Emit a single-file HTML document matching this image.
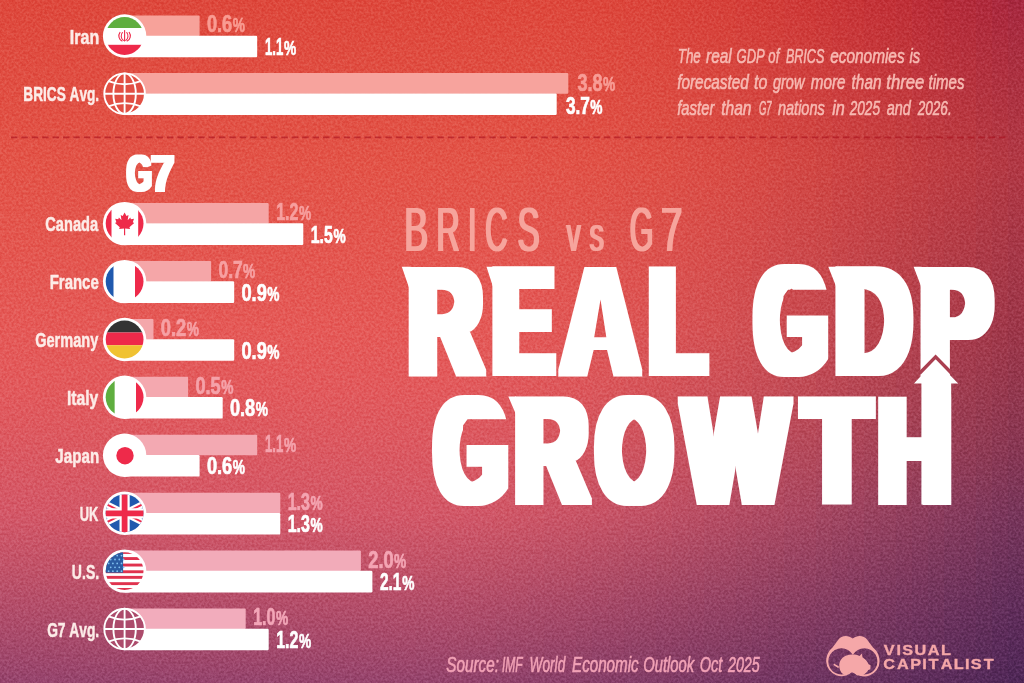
<!DOCTYPE html>
<html lang="en"><head><meta charset="utf-8"><title>BRICS vs G7 Real GDP Growth</title>
<style>
html,body{margin:0;padding:0;background:#d84a44;}
body{width:1024px;height:683px;overflow:hidden;font-family:"Liberation Sans",sans-serif;}
svg{display:block}
text{font-family:"Liberation Sans",sans-serif;font-kerning:none;}
</style></head><body>
<svg width="1024" height="683" viewBox="0 0 1024 683">
<defs>
<linearGradient id="b0" x1="0" y1="0" x2="0" y2="1"><stop offset="0.0000" stop-color="#de483c"/><stop offset="0.0878" stop-color="#e04d41"/><stop offset="0.2387" stop-color="#e35448"/><stop offset="0.3660" stop-color="#e45750"/><stop offset="0.4876" stop-color="#e55a58"/><stop offset="0.5754" stop-color="#e25a5d"/><stop offset="0.6633" stop-color="#db5962"/><stop offset="0.7511" stop-color="#d45868"/><stop offset="0.8389" stop-color="#c05269"/><stop offset="0.8829" stop-color="#b54e6a"/><stop offset="0.9370" stop-color="#a84a6b"/><stop offset="1.0000" stop-color="#96446d"/></linearGradient>
<linearGradient id="b1" x1="0" y1="0" x2="0" y2="1"><stop offset="0.0000" stop-color="#de483c"/><stop offset="0.0878" stop-color="#e04d41"/><stop offset="0.2387" stop-color="#e35448"/><stop offset="0.3660" stop-color="#e45750"/><stop offset="0.4876" stop-color="#e55a58"/><stop offset="0.5754" stop-color="#e25a5d"/><stop offset="0.6633" stop-color="#db5962"/><stop offset="0.7511" stop-color="#d45868"/><stop offset="0.8389" stop-color="#c05269"/><stop offset="0.8829" stop-color="#b54e6a"/><stop offset="0.9370" stop-color="#a84a6b"/><stop offset="1.0000" stop-color="#96446d"/></linearGradient>
<linearGradient id="b2" x1="0" y1="0" x2="0" y2="1"><stop offset="0.0000" stop-color="#de483c"/><stop offset="0.0878" stop-color="#e04d41"/><stop offset="0.2387" stop-color="#e35448"/><stop offset="0.3660" stop-color="#e45750"/><stop offset="0.4876" stop-color="#e55a58"/><stop offset="0.5754" stop-color="#e25a5d"/><stop offset="0.6633" stop-color="#db5962"/><stop offset="0.7511" stop-color="#d45868"/><stop offset="0.8389" stop-color="#c05269"/><stop offset="0.8829" stop-color="#b54e6a"/><stop offset="0.9370" stop-color="#a84a6b"/><stop offset="1.0000" stop-color="#96446d"/></linearGradient>
<linearGradient id="b3" x1="0" y1="0" x2="0" y2="1"><stop offset="0.0000" stop-color="#de483c"/><stop offset="0.0878" stop-color="#e04d41"/><stop offset="0.2387" stop-color="#e35448"/><stop offset="0.3660" stop-color="#e45750"/><stop offset="0.4876" stop-color="#e55a58"/><stop offset="0.5754" stop-color="#e25a5d"/><stop offset="0.6633" stop-color="#db5962"/><stop offset="0.7511" stop-color="#d45868"/><stop offset="0.8389" stop-color="#c05269"/><stop offset="0.8829" stop-color="#b54e6a"/><stop offset="0.9370" stop-color="#a84a6b"/><stop offset="1.0000" stop-color="#96446d"/></linearGradient>
<linearGradient id="b4" x1="0" y1="0" x2="0" y2="1"><stop offset="0.0000" stop-color="#de483c"/><stop offset="0.0878" stop-color="#e04d41"/><stop offset="0.2387" stop-color="#e35448"/><stop offset="0.3660" stop-color="#e45750"/><stop offset="0.4876" stop-color="#e55a58"/><stop offset="0.5754" stop-color="#e25a5d"/><stop offset="0.6633" stop-color="#db5962"/><stop offset="0.7511" stop-color="#d45868"/><stop offset="0.8389" stop-color="#c05269"/><stop offset="0.8829" stop-color="#b54e6a"/><stop offset="0.9370" stop-color="#a84a6b"/><stop offset="1.0000" stop-color="#96446d"/></linearGradient>
<linearGradient id="b5" x1="0" y1="0" x2="0" y2="1"><stop offset="0.0000" stop-color="#de483c"/><stop offset="0.0878" stop-color="#e04d41"/><stop offset="0.2387" stop-color="#e35448"/><stop offset="0.3660" stop-color="#e45750"/><stop offset="0.4876" stop-color="#e55a58"/><stop offset="0.5754" stop-color="#e25a5d"/><stop offset="0.6633" stop-color="#db5962"/><stop offset="0.7511" stop-color="#d45868"/><stop offset="0.8389" stop-color="#c05269"/><stop offset="0.8829" stop-color="#b54e6a"/><stop offset="0.9370" stop-color="#a84a6b"/><stop offset="1.0000" stop-color="#96446d"/></linearGradient>
<linearGradient id="b6" x1="0" y1="0" x2="0" y2="1"><stop offset="0.0000" stop-color="#de483c"/><stop offset="0.0878" stop-color="#e04d41"/><stop offset="0.2387" stop-color="#e35448"/><stop offset="0.3660" stop-color="#e45750"/><stop offset="0.4876" stop-color="#e55a58"/><stop offset="0.5754" stop-color="#e25a5d"/><stop offset="0.6633" stop-color="#db5962"/><stop offset="0.7511" stop-color="#d45868"/><stop offset="0.8389" stop-color="#c05269"/><stop offset="0.8829" stop-color="#b54e6a"/><stop offset="0.9370" stop-color="#a84a6b"/><stop offset="1.0000" stop-color="#96446d"/></linearGradient>
<linearGradient id="b7" x1="0" y1="0" x2="0" y2="1"><stop offset="0.0000" stop-color="#de483c"/><stop offset="0.0878" stop-color="#e04d41"/><stop offset="0.2387" stop-color="#e35448"/><stop offset="0.3660" stop-color="#e45750"/><stop offset="0.4876" stop-color="#e55a58"/><stop offset="0.5754" stop-color="#e25a5d"/><stop offset="0.6633" stop-color="#db5962"/><stop offset="0.7511" stop-color="#d45868"/><stop offset="0.8389" stop-color="#c05269"/><stop offset="0.8829" stop-color="#b54e6a"/><stop offset="0.9370" stop-color="#a84a6b"/><stop offset="1.0000" stop-color="#96446d"/></linearGradient>
<linearGradient id="b8" x1="0" y1="0" x2="0" y2="1"><stop offset="0.0000" stop-color="#de483c"/><stop offset="0.0878" stop-color="#e04d41"/><stop offset="0.2387" stop-color="#e35448"/><stop offset="0.3660" stop-color="#e45750"/><stop offset="0.4876" stop-color="#e55a58"/><stop offset="0.5754" stop-color="#e25a5d"/><stop offset="0.6633" stop-color="#db5962"/><stop offset="0.7511" stop-color="#d45868"/><stop offset="0.8389" stop-color="#c05269"/><stop offset="0.8829" stop-color="#b54e6a"/><stop offset="0.9370" stop-color="#a84a6b"/><stop offset="1.0000" stop-color="#96446d"/></linearGradient>
<linearGradient id="b9" x1="0" y1="0" x2="0" y2="1"><stop offset="0.0000" stop-color="#de483c"/><stop offset="0.0878" stop-color="#e04d41"/><stop offset="0.2387" stop-color="#e35448"/><stop offset="0.3660" stop-color="#e45750"/><stop offset="0.4876" stop-color="#e55a58"/><stop offset="0.5754" stop-color="#e25a5d"/><stop offset="0.6633" stop-color="#db5962"/><stop offset="0.7511" stop-color="#d45868"/><stop offset="0.8389" stop-color="#c05269"/><stop offset="0.8829" stop-color="#b54e6a"/><stop offset="0.9370" stop-color="#a84a6b"/><stop offset="1.0000" stop-color="#96446d"/></linearGradient>
<linearGradient id="b10" x1="0" y1="0" x2="0" y2="1"><stop offset="0.0000" stop-color="#de483c"/><stop offset="0.0878" stop-color="#e04d41"/><stop offset="0.2387" stop-color="#e35448"/><stop offset="0.3660" stop-color="#e45750"/><stop offset="0.4876" stop-color="#e55a58"/><stop offset="0.5754" stop-color="#e25a5d"/><stop offset="0.6633" stop-color="#db5962"/><stop offset="0.7511" stop-color="#d45868"/><stop offset="0.8389" stop-color="#c05269"/><stop offset="0.8829" stop-color="#b54e6a"/><stop offset="0.9370" stop-color="#a84a6b"/><stop offset="1.0000" stop-color="#96446d"/></linearGradient>
<linearGradient id="b11" x1="0" y1="0" x2="0" y2="1"><stop offset="0.0000" stop-color="#de483c"/><stop offset="0.0878" stop-color="#e04d41"/><stop offset="0.2387" stop-color="#e35448"/><stop offset="0.3660" stop-color="#e45750"/><stop offset="0.4876" stop-color="#e55a58"/><stop offset="0.5754" stop-color="#e25a5d"/><stop offset="0.6633" stop-color="#db5962"/><stop offset="0.7511" stop-color="#d45868"/><stop offset="0.8389" stop-color="#c05269"/><stop offset="0.8829" stop-color="#b54e6a"/><stop offset="0.9370" stop-color="#a84a6b"/><stop offset="1.0000" stop-color="#96446d"/></linearGradient>
<linearGradient id="b12" x1="0" y1="0" x2="0" y2="1"><stop offset="0.0000" stop-color="#de483c"/><stop offset="0.0878" stop-color="#e04d41"/><stop offset="0.2387" stop-color="#e35448"/><stop offset="0.3660" stop-color="#e45750"/><stop offset="0.4876" stop-color="#e55a58"/><stop offset="0.5754" stop-color="#e25a5d"/><stop offset="0.6633" stop-color="#db5962"/><stop offset="0.7511" stop-color="#d45868"/><stop offset="0.8389" stop-color="#c05269"/><stop offset="0.8829" stop-color="#b54e6a"/><stop offset="0.9370" stop-color="#a84a6b"/><stop offset="1.0000" stop-color="#96446d"/></linearGradient>
<linearGradient id="b13" x1="0" y1="0" x2="0" y2="1"><stop offset="0.0000" stop-color="#de483c"/><stop offset="0.0878" stop-color="#e04d41"/><stop offset="0.2387" stop-color="#e35448"/><stop offset="0.3660" stop-color="#e45750"/><stop offset="0.4876" stop-color="#e55a58"/><stop offset="0.5754" stop-color="#e25a5d"/><stop offset="0.6633" stop-color="#db5962"/><stop offset="0.7511" stop-color="#d45868"/><stop offset="0.8389" stop-color="#c05269"/><stop offset="0.8829" stop-color="#b54e6a"/><stop offset="0.9370" stop-color="#a84a6b"/><stop offset="1.0000" stop-color="#96446d"/></linearGradient>
<linearGradient id="b14" x1="0" y1="0" x2="0" y2="1"><stop offset="0.0000" stop-color="#de483c"/><stop offset="0.0878" stop-color="#e04d41"/><stop offset="0.2387" stop-color="#e35448"/><stop offset="0.3660" stop-color="#e45750"/><stop offset="0.4876" stop-color="#e55a58"/><stop offset="0.5754" stop-color="#e25a5d"/><stop offset="0.6633" stop-color="#db5962"/><stop offset="0.7511" stop-color="#d45868"/><stop offset="0.8389" stop-color="#c05269"/><stop offset="0.8829" stop-color="#b54e6a"/><stop offset="0.9370" stop-color="#a84a6b"/><stop offset="1.0000" stop-color="#96446d"/></linearGradient>
<linearGradient id="b15" x1="0" y1="0" x2="0" y2="1"><stop offset="0.0000" stop-color="#de483c"/><stop offset="0.0878" stop-color="#e04d41"/><stop offset="0.2387" stop-color="#e35448"/><stop offset="0.3660" stop-color="#e45750"/><stop offset="0.4876" stop-color="#e55a58"/><stop offset="0.5754" stop-color="#e25a5d"/><stop offset="0.6633" stop-color="#db5962"/><stop offset="0.7511" stop-color="#d45868"/><stop offset="0.8389" stop-color="#c05269"/><stop offset="0.8829" stop-color="#b54e6a"/><stop offset="0.9370" stop-color="#a84a6b"/><stop offset="1.0000" stop-color="#96446d"/></linearGradient>
<linearGradient id="b16" x1="0" y1="0" x2="0" y2="1"><stop offset="0.0000" stop-color="#de483c"/><stop offset="0.0878" stop-color="#e04d41"/><stop offset="0.2387" stop-color="#e35448"/><stop offset="0.3660" stop-color="#e45750"/><stop offset="0.4876" stop-color="#e55a58"/><stop offset="0.5754" stop-color="#e25a5d"/><stop offset="0.6633" stop-color="#db5962"/><stop offset="0.7511" stop-color="#d45868"/><stop offset="0.8389" stop-color="#c05269"/><stop offset="0.8829" stop-color="#b54e6a"/><stop offset="0.9370" stop-color="#a84a6b"/><stop offset="1.0000" stop-color="#96446d"/></linearGradient>
<linearGradient id="b17" x1="0" y1="0" x2="0" y2="1"><stop offset="0.0000" stop-color="#de483c"/><stop offset="0.0878" stop-color="#e04d41"/><stop offset="0.2387" stop-color="#e35448"/><stop offset="0.3660" stop-color="#e45750"/><stop offset="0.4876" stop-color="#e55a58"/><stop offset="0.5754" stop-color="#e25a5d"/><stop offset="0.6633" stop-color="#db5962"/><stop offset="0.7511" stop-color="#d45868"/><stop offset="0.8389" stop-color="#c05269"/><stop offset="0.8829" stop-color="#b54e6a"/><stop offset="0.9370" stop-color="#a84a6b"/><stop offset="1.0000" stop-color="#96446d"/></linearGradient>
<linearGradient id="b18" x1="0" y1="0" x2="0" y2="1"><stop offset="0.0000" stop-color="#de483c"/><stop offset="0.0878" stop-color="#e04d41"/><stop offset="0.2387" stop-color="#e35448"/><stop offset="0.3660" stop-color="#e45750"/><stop offset="0.4876" stop-color="#e55a58"/><stop offset="0.5754" stop-color="#e25a5d"/><stop offset="0.6633" stop-color="#db5962"/><stop offset="0.7511" stop-color="#d45868"/><stop offset="0.8389" stop-color="#c05269"/><stop offset="0.8829" stop-color="#b54e6a"/><stop offset="0.9370" stop-color="#a84a6b"/><stop offset="1.0000" stop-color="#96446d"/></linearGradient>
<linearGradient id="b19" x1="0" y1="0" x2="0" y2="1"><stop offset="0.0000" stop-color="#de483c"/><stop offset="0.0878" stop-color="#e04d41"/><stop offset="0.2387" stop-color="#e35448"/><stop offset="0.3660" stop-color="#e45750"/><stop offset="0.4876" stop-color="#e55a58"/><stop offset="0.5754" stop-color="#e25a5d"/><stop offset="0.6633" stop-color="#db5962"/><stop offset="0.7511" stop-color="#d45868"/><stop offset="0.8389" stop-color="#c05269"/><stop offset="0.8829" stop-color="#b54e6a"/><stop offset="0.9370" stop-color="#a84a6b"/><stop offset="1.0000" stop-color="#96446d"/></linearGradient>
<linearGradient id="b20" x1="0" y1="0" x2="0" y2="1"><stop offset="0.0000" stop-color="#de483c"/><stop offset="0.0878" stop-color="#e04d41"/><stop offset="0.2387" stop-color="#e35448"/><stop offset="0.3660" stop-color="#e45750"/><stop offset="0.4876" stop-color="#e55a58"/><stop offset="0.5754" stop-color="#e25a5d"/><stop offset="0.6633" stop-color="#db5962"/><stop offset="0.7511" stop-color="#d45868"/><stop offset="0.8389" stop-color="#c05269"/><stop offset="0.8829" stop-color="#b54e6a"/><stop offset="0.9370" stop-color="#a84a6b"/><stop offset="1.0000" stop-color="#96446d"/></linearGradient>
<linearGradient id="b21" x1="0" y1="0" x2="0" y2="1"><stop offset="0.0000" stop-color="#de483c"/><stop offset="0.0878" stop-color="#e04d41"/><stop offset="0.2387" stop-color="#e35448"/><stop offset="0.3660" stop-color="#e45750"/><stop offset="0.4876" stop-color="#e55a58"/><stop offset="0.5754" stop-color="#e25a5d"/><stop offset="0.6633" stop-color="#db5962"/><stop offset="0.7511" stop-color="#d45868"/><stop offset="0.8389" stop-color="#c05269"/><stop offset="0.8829" stop-color="#b54e6a"/><stop offset="0.9370" stop-color="#a84a6b"/><stop offset="1.0000" stop-color="#96446d"/></linearGradient>
<linearGradient id="b22" x1="0" y1="0" x2="0" y2="1"><stop offset="0.0000" stop-color="#de483c"/><stop offset="0.0878" stop-color="#e04d41"/><stop offset="0.2387" stop-color="#e35448"/><stop offset="0.3660" stop-color="#e45750"/><stop offset="0.4876" stop-color="#e55a58"/><stop offset="0.5754" stop-color="#e25a5d"/><stop offset="0.6633" stop-color="#db5962"/><stop offset="0.7511" stop-color="#d45868"/><stop offset="0.8389" stop-color="#c05269"/><stop offset="0.8829" stop-color="#b54e6a"/><stop offset="0.9370" stop-color="#a84a6b"/><stop offset="1.0000" stop-color="#96446d"/></linearGradient>
<linearGradient id="b23" x1="0" y1="0" x2="0" y2="1"><stop offset="0.0000" stop-color="#de483c"/><stop offset="0.0878" stop-color="#e04d41"/><stop offset="0.2387" stop-color="#e35448"/><stop offset="0.3660" stop-color="#e45750"/><stop offset="0.4876" stop-color="#e55a58"/><stop offset="0.5754" stop-color="#e25a5d"/><stop offset="0.6633" stop-color="#db5962"/><stop offset="0.7511" stop-color="#d45868"/><stop offset="0.8389" stop-color="#c05269"/><stop offset="0.8829" stop-color="#b54e6a"/><stop offset="0.9370" stop-color="#a84a6b"/><stop offset="1.0000" stop-color="#96446d"/></linearGradient>
<linearGradient id="b24" x1="0" y1="0" x2="0" y2="1"><stop offset="0.0000" stop-color="#de483c"/><stop offset="0.0878" stop-color="#e04d41"/><stop offset="0.2387" stop-color="#e35448"/><stop offset="0.3660" stop-color="#e45750"/><stop offset="0.4876" stop-color="#e55a58"/><stop offset="0.5754" stop-color="#e25a5d"/><stop offset="0.6633" stop-color="#db5962"/><stop offset="0.7511" stop-color="#d45868"/><stop offset="0.8389" stop-color="#c05269"/><stop offset="0.8829" stop-color="#b54e6a"/><stop offset="0.9370" stop-color="#a84a6b"/><stop offset="1.0000" stop-color="#96446d"/></linearGradient>
<linearGradient id="b25" x1="0" y1="0" x2="0" y2="1"><stop offset="0.0000" stop-color="#de483c"/><stop offset="0.0878" stop-color="#e04d41"/><stop offset="0.2387" stop-color="#e35448"/><stop offset="0.3660" stop-color="#e45750"/><stop offset="0.4876" stop-color="#e55a58"/><stop offset="0.5754" stop-color="#e25a5d"/><stop offset="0.6633" stop-color="#db5962"/><stop offset="0.7511" stop-color="#d45868"/><stop offset="0.8389" stop-color="#c05269"/><stop offset="0.8829" stop-color="#b54e6a"/><stop offset="0.9370" stop-color="#a84a6b"/><stop offset="1.0000" stop-color="#96446d"/></linearGradient>
<linearGradient id="b26" x1="0" y1="0" x2="0" y2="1"><stop offset="0.0000" stop-color="#de483c"/><stop offset="0.0878" stop-color="#e04d41"/><stop offset="0.2387" stop-color="#e35448"/><stop offset="0.3660" stop-color="#e45750"/><stop offset="0.4876" stop-color="#e55a58"/><stop offset="0.5754" stop-color="#e25a5d"/><stop offset="0.6633" stop-color="#db5962"/><stop offset="0.7511" stop-color="#d45868"/><stop offset="0.8389" stop-color="#c05269"/><stop offset="0.8829" stop-color="#b44e6a"/><stop offset="0.9370" stop-color="#a74a6b"/><stop offset="1.0000" stop-color="#95446d"/></linearGradient>
<linearGradient id="b27" x1="0" y1="0" x2="0" y2="1"><stop offset="0.0000" stop-color="#de483c"/><stop offset="0.0878" stop-color="#e04d41"/><stop offset="0.2387" stop-color="#e35448"/><stop offset="0.3660" stop-color="#e45750"/><stop offset="0.4876" stop-color="#e55a58"/><stop offset="0.5754" stop-color="#e25a5d"/><stop offset="0.6633" stop-color="#db5962"/><stop offset="0.7511" stop-color="#d35868"/><stop offset="0.8389" stop-color="#bf5269"/><stop offset="0.8829" stop-color="#b44e6a"/><stop offset="0.9370" stop-color="#a7496b"/><stop offset="1.0000" stop-color="#94436c"/></linearGradient>
<linearGradient id="b28" x1="0" y1="0" x2="0" y2="1"><stop offset="0.0000" stop-color="#de483c"/><stop offset="0.0878" stop-color="#e04d41"/><stop offset="0.2387" stop-color="#e35448"/><stop offset="0.3660" stop-color="#e45750"/><stop offset="0.4876" stop-color="#e55a58"/><stop offset="0.5754" stop-color="#e25a5d"/><stop offset="0.6633" stop-color="#da5962"/><stop offset="0.7511" stop-color="#d35868"/><stop offset="0.8389" stop-color="#be5169"/><stop offset="0.8829" stop-color="#b34d6a"/><stop offset="0.9370" stop-color="#a6496a"/><stop offset="1.0000" stop-color="#93436c"/></linearGradient>
<linearGradient id="b29" x1="0" y1="0" x2="0" y2="1"><stop offset="0.0000" stop-color="#de483c"/><stop offset="0.0878" stop-color="#e04d41"/><stop offset="0.2387" stop-color="#e35448"/><stop offset="0.3660" stop-color="#e45750"/><stop offset="0.4876" stop-color="#e55a58"/><stop offset="0.5754" stop-color="#e15a5d"/><stop offset="0.6633" stop-color="#da5962"/><stop offset="0.7511" stop-color="#d25768"/><stop offset="0.8389" stop-color="#be5169"/><stop offset="0.8829" stop-color="#b24d69"/><stop offset="0.9370" stop-color="#a5496a"/><stop offset="1.0000" stop-color="#92426c"/></linearGradient>
<linearGradient id="b30" x1="0" y1="0" x2="0" y2="1"><stop offset="0.0000" stop-color="#de483c"/><stop offset="0.0878" stop-color="#e04d41"/><stop offset="0.2387" stop-color="#e35448"/><stop offset="0.3660" stop-color="#e45750"/><stop offset="0.4876" stop-color="#e45a58"/><stop offset="0.5754" stop-color="#e15a5d"/><stop offset="0.6633" stop-color="#d95862"/><stop offset="0.7511" stop-color="#d15768"/><stop offset="0.8389" stop-color="#bc5168"/><stop offset="0.8829" stop-color="#b14c69"/><stop offset="0.9370" stop-color="#a4486a"/><stop offset="1.0000" stop-color="#91426c"/></linearGradient>
<linearGradient id="b31" x1="0" y1="0" x2="0" y2="1"><stop offset="0.0000" stop-color="#de483c"/><stop offset="0.0878" stop-color="#e04d41"/><stop offset="0.2387" stop-color="#e35448"/><stop offset="0.3660" stop-color="#e35750"/><stop offset="0.4876" stop-color="#e45958"/><stop offset="0.5754" stop-color="#e0595d"/><stop offset="0.6633" stop-color="#d95862"/><stop offset="0.7511" stop-color="#d05767"/><stop offset="0.8389" stop-color="#bb5068"/><stop offset="0.8829" stop-color="#b04c69"/><stop offset="0.9370" stop-color="#a2486a"/><stop offset="1.0000" stop-color="#90426b"/></linearGradient>
<linearGradient id="b32" x1="0" y1="0" x2="0" y2="1"><stop offset="0.0000" stop-color="#de483c"/><stop offset="0.0878" stop-color="#e04d41"/><stop offset="0.2387" stop-color="#e35448"/><stop offset="0.3660" stop-color="#e35750"/><stop offset="0.4876" stop-color="#e35958"/><stop offset="0.5754" stop-color="#e0595d"/><stop offset="0.6633" stop-color="#d85862"/><stop offset="0.7511" stop-color="#cf5667"/><stop offset="0.8389" stop-color="#ba5068"/><stop offset="0.8829" stop-color="#af4c69"/><stop offset="0.9370" stop-color="#a14769"/><stop offset="1.0000" stop-color="#8f416b"/></linearGradient>
<linearGradient id="b33" x1="0" y1="0" x2="0" y2="1"><stop offset="0.0000" stop-color="#de483c"/><stop offset="0.0878" stop-color="#e04d41"/><stop offset="0.2387" stop-color="#e25348"/><stop offset="0.3660" stop-color="#e35650"/><stop offset="0.4876" stop-color="#e35958"/><stop offset="0.5754" stop-color="#df595c"/><stop offset="0.6633" stop-color="#d75762"/><stop offset="0.7511" stop-color="#ce5667"/><stop offset="0.8389" stop-color="#b94f68"/><stop offset="0.8829" stop-color="#ad4b69"/><stop offset="0.9370" stop-color="#a04769"/><stop offset="1.0000" stop-color="#8d406a"/></linearGradient>
<linearGradient id="b34" x1="0" y1="0" x2="0" y2="1"><stop offset="0.0000" stop-color="#de483c"/><stop offset="0.0878" stop-color="#e04d41"/><stop offset="0.2387" stop-color="#e25348"/><stop offset="0.3660" stop-color="#e25650"/><stop offset="0.4876" stop-color="#e25857"/><stop offset="0.5754" stop-color="#de585c"/><stop offset="0.6633" stop-color="#d55761"/><stop offset="0.7511" stop-color="#cc5567"/><stop offset="0.8389" stop-color="#b74f68"/><stop offset="0.8829" stop-color="#ac4a68"/><stop offset="0.9370" stop-color="#9e4669"/><stop offset="1.0000" stop-color="#8c406a"/></linearGradient>
<linearGradient id="b35" x1="0" y1="0" x2="0" y2="1"><stop offset="0.0000" stop-color="#dd473c"/><stop offset="0.0878" stop-color="#df4c41"/><stop offset="0.2387" stop-color="#e25348"/><stop offset="0.3660" stop-color="#e25650"/><stop offset="0.4876" stop-color="#e15857"/><stop offset="0.5754" stop-color="#dd585c"/><stop offset="0.6633" stop-color="#d45661"/><stop offset="0.7511" stop-color="#cb5567"/><stop offset="0.8389" stop-color="#b64e67"/><stop offset="0.8829" stop-color="#aa4a68"/><stop offset="0.9370" stop-color="#9d4568"/><stop offset="1.0000" stop-color="#8b3f6a"/></linearGradient>
<linearGradient id="b36" x1="0" y1="0" x2="0" y2="1"><stop offset="0.0000" stop-color="#dd473c"/><stop offset="0.0878" stop-color="#df4c41"/><stop offset="0.2387" stop-color="#e15247"/><stop offset="0.3660" stop-color="#e1554f"/><stop offset="0.4876" stop-color="#e05857"/><stop offset="0.5754" stop-color="#dc575c"/><stop offset="0.6633" stop-color="#d35661"/><stop offset="0.7511" stop-color="#c95466"/><stop offset="0.8389" stop-color="#b44d67"/><stop offset="0.8829" stop-color="#a94968"/><stop offset="0.9370" stop-color="#9b4568"/><stop offset="1.0000" stop-color="#893f69"/></linearGradient>
<linearGradient id="b37" x1="0" y1="0" x2="0" y2="1"><stop offset="0.0000" stop-color="#dd463b"/><stop offset="0.0878" stop-color="#df4b40"/><stop offset="0.2387" stop-color="#e15247"/><stop offset="0.3660" stop-color="#e0554f"/><stop offset="0.4876" stop-color="#df5757"/><stop offset="0.5754" stop-color="#da575c"/><stop offset="0.6633" stop-color="#d15561"/><stop offset="0.7511" stop-color="#c85366"/><stop offset="0.8389" stop-color="#b24d67"/><stop offset="0.8829" stop-color="#a74867"/><stop offset="0.9370" stop-color="#994468"/><stop offset="1.0000" stop-color="#873e69"/></linearGradient>
<linearGradient id="b38" x1="0" y1="0" x2="0" y2="1"><stop offset="0.0000" stop-color="#dc463b"/><stop offset="0.0878" stop-color="#de4b40"/><stop offset="0.2387" stop-color="#e05147"/><stop offset="0.3660" stop-color="#df544f"/><stop offset="0.4876" stop-color="#de5656"/><stop offset="0.5754" stop-color="#d9565b"/><stop offset="0.6633" stop-color="#d05460"/><stop offset="0.7511" stop-color="#c65366"/><stop offset="0.8389" stop-color="#b04c66"/><stop offset="0.8829" stop-color="#a54867"/><stop offset="0.9370" stop-color="#984367"/><stop offset="1.0000" stop-color="#863d68"/></linearGradient>
<linearGradient id="b39" x1="0" y1="0" x2="0" y2="1"><stop offset="0.0000" stop-color="#dc453b"/><stop offset="0.0878" stop-color="#dd4a40"/><stop offset="0.2387" stop-color="#df5147"/><stop offset="0.3660" stop-color="#de534f"/><stop offset="0.4876" stop-color="#dd5656"/><stop offset="0.5754" stop-color="#d7555b"/><stop offset="0.6633" stop-color="#ce5460"/><stop offset="0.7511" stop-color="#c45266"/><stop offset="0.8389" stop-color="#ae4b66"/><stop offset="0.8829" stop-color="#a34767"/><stop offset="0.9370" stop-color="#964367"/><stop offset="1.0000" stop-color="#843d68"/></linearGradient>
<linearGradient id="b40" x1="0" y1="0" x2="0" y2="1"><stop offset="0.0000" stop-color="#db453b"/><stop offset="0.0878" stop-color="#dd4a40"/><stop offset="0.2387" stop-color="#df5046"/><stop offset="0.3660" stop-color="#dd534e"/><stop offset="0.4876" stop-color="#db5556"/><stop offset="0.5754" stop-color="#d6555b"/><stop offset="0.6633" stop-color="#cc5360"/><stop offset="0.7511" stop-color="#c25165"/><stop offset="0.8389" stop-color="#ac4a66"/><stop offset="0.8829" stop-color="#a14666"/><stop offset="0.9370" stop-color="#944266"/><stop offset="1.0000" stop-color="#823c67"/></linearGradient>
<linearGradient id="b41" x1="0" y1="0" x2="0" y2="1"><stop offset="0.0000" stop-color="#da443a"/><stop offset="0.0878" stop-color="#dc493f"/><stop offset="0.2387" stop-color="#de5046"/><stop offset="0.3660" stop-color="#dc524e"/><stop offset="0.4876" stop-color="#da5456"/><stop offset="0.5754" stop-color="#d4545a"/><stop offset="0.6633" stop-color="#ca525f"/><stop offset="0.7511" stop-color="#c05065"/><stop offset="0.8389" stop-color="#aa4a65"/><stop offset="0.8829" stop-color="#9f4566"/><stop offset="0.9370" stop-color="#924166"/><stop offset="1.0000" stop-color="#813b66"/></linearGradient>
<linearGradient id="b42" x1="0" y1="0" x2="0" y2="1"><stop offset="0.0000" stop-color="#d9433a"/><stop offset="0.0878" stop-color="#db483f"/><stop offset="0.2387" stop-color="#dd4f46"/><stop offset="0.3660" stop-color="#db514e"/><stop offset="0.4876" stop-color="#d85355"/><stop offset="0.5754" stop-color="#d2535a"/><stop offset="0.6633" stop-color="#c8515f"/><stop offset="0.7511" stop-color="#bd4f65"/><stop offset="0.8389" stop-color="#a84965"/><stop offset="0.8829" stop-color="#9d4565"/><stop offset="0.9370" stop-color="#904065"/><stop offset="1.0000" stop-color="#7f3a66"/></linearGradient>
<linearGradient id="b43" x1="0" y1="0" x2="0" y2="1"><stop offset="0.0000" stop-color="#d8423a"/><stop offset="0.0878" stop-color="#da473f"/><stop offset="0.2387" stop-color="#dc4e46"/><stop offset="0.3660" stop-color="#d9504d"/><stop offset="0.4876" stop-color="#d65255"/><stop offset="0.5754" stop-color="#d0525a"/><stop offset="0.6633" stop-color="#c6505f"/><stop offset="0.7511" stop-color="#bb4e64"/><stop offset="0.8389" stop-color="#a64865"/><stop offset="0.8829" stop-color="#9b4465"/><stop offset="0.9370" stop-color="#8e3f65"/><stop offset="1.0000" stop-color="#7d3a65"/></linearGradient>
<linearGradient id="b44" x1="0" y1="0" x2="0" y2="1"><stop offset="0.0000" stop-color="#d7413a"/><stop offset="0.0878" stop-color="#d9463e"/><stop offset="0.2387" stop-color="#db4d45"/><stop offset="0.3660" stop-color="#d84f4d"/><stop offset="0.4876" stop-color="#d55254"/><stop offset="0.5754" stop-color="#ce5159"/><stop offset="0.6633" stop-color="#c44f5e"/><stop offset="0.7511" stop-color="#b84d64"/><stop offset="0.8389" stop-color="#a34764"/><stop offset="0.8829" stop-color="#984365"/><stop offset="0.9370" stop-color="#8c3f64"/><stop offset="1.0000" stop-color="#7b3965"/></linearGradient>
<linearGradient id="b45" x1="0" y1="0" x2="0" y2="1"><stop offset="0.0000" stop-color="#d64039"/><stop offset="0.0878" stop-color="#d8453e"/><stop offset="0.2387" stop-color="#d94c45"/><stop offset="0.3660" stop-color="#d64e4d"/><stop offset="0.4876" stop-color="#d35154"/><stop offset="0.5754" stop-color="#cc5059"/><stop offset="0.6633" stop-color="#c24f5e"/><stop offset="0.7511" stop-color="#b64c64"/><stop offset="0.8389" stop-color="#a14664"/><stop offset="0.8829" stop-color="#964264"/><stop offset="0.9370" stop-color="#893e64"/><stop offset="1.0000" stop-color="#793864"/></linearGradient>
<linearGradient id="b46" x1="0" y1="0" x2="0" y2="1"><stop offset="0.0000" stop-color="#d53e39"/><stop offset="0.0878" stop-color="#d6443e"/><stop offset="0.2387" stop-color="#d84b45"/><stop offset="0.3660" stop-color="#d54d4c"/><stop offset="0.4876" stop-color="#d15054"/><stop offset="0.5754" stop-color="#ca4f58"/><stop offset="0.6633" stop-color="#bf4e5d"/><stop offset="0.7511" stop-color="#b34b63"/><stop offset="0.8389" stop-color="#9e4563"/><stop offset="0.8829" stop-color="#944164"/><stop offset="0.9370" stop-color="#873d63"/><stop offset="1.0000" stop-color="#773764"/></linearGradient>
<linearGradient id="b47" x1="0" y1="0" x2="0" y2="1"><stop offset="0.0000" stop-color="#d33d38"/><stop offset="0.0878" stop-color="#d5423d"/><stop offset="0.2387" stop-color="#d74a44"/><stop offset="0.3660" stop-color="#d34c4c"/><stop offset="0.4876" stop-color="#ce4e53"/><stop offset="0.5754" stop-color="#c74e58"/><stop offset="0.6633" stop-color="#bd4c5d"/><stop offset="0.7511" stop-color="#b04a63"/><stop offset="0.8389" stop-color="#9c4463"/><stop offset="0.8829" stop-color="#914063"/><stop offset="0.9370" stop-color="#853c63"/><stop offset="1.0000" stop-color="#753663"/></linearGradient>
<linearGradient id="b48" x1="0" y1="0" x2="0" y2="1"><stop offset="0.0000" stop-color="#d23c38"/><stop offset="0.0878" stop-color="#d3413d"/><stop offset="0.2387" stop-color="#d54944"/><stop offset="0.3660" stop-color="#d14b4c"/><stop offset="0.4876" stop-color="#cc4d53"/><stop offset="0.5754" stop-color="#c54d57"/><stop offset="0.6633" stop-color="#ba4b5c"/><stop offset="0.7511" stop-color="#ae4962"/><stop offset="0.8389" stop-color="#994362"/><stop offset="0.8829" stop-color="#8e3f63"/><stop offset="0.9370" stop-color="#823b62"/><stop offset="1.0000" stop-color="#733562"/></linearGradient>
<linearGradient id="b49" x1="0" y1="0" x2="0" y2="1"><stop offset="0.0000" stop-color="#d03a38"/><stop offset="0.0878" stop-color="#d2403d"/><stop offset="0.2387" stop-color="#d34844"/><stop offset="0.3660" stop-color="#cf4a4b"/><stop offset="0.4876" stop-color="#ca4c52"/><stop offset="0.5754" stop-color="#c24c57"/><stop offset="0.6633" stop-color="#b74a5c"/><stop offset="0.7511" stop-color="#ab4862"/><stop offset="0.8389" stop-color="#964262"/><stop offset="0.8829" stop-color="#8c3e62"/><stop offset="0.9370" stop-color="#803a62"/><stop offset="1.0000" stop-color="#713562"/></linearGradient>
<linearGradient id="b50" x1="0" y1="0" x2="0" y2="1"><stop offset="0.0000" stop-color="#ce3837"/><stop offset="0.0878" stop-color="#d03e3c"/><stop offset="0.2387" stop-color="#d24743"/><stop offset="0.3660" stop-color="#cd494b"/><stop offset="0.4876" stop-color="#c74b52"/><stop offset="0.5754" stop-color="#c04b56"/><stop offset="0.6633" stop-color="#b4495b"/><stop offset="0.7511" stop-color="#a84761"/><stop offset="0.8389" stop-color="#944162"/><stop offset="0.8829" stop-color="#893d62"/><stop offset="0.9370" stop-color="#7d3961"/><stop offset="1.0000" stop-color="#6f3461"/></linearGradient>
<linearGradient id="b51" x1="0" y1="0" x2="0" y2="1"><stop offset="0.0000" stop-color="#cc3737"/><stop offset="0.0878" stop-color="#ce3d3c"/><stop offset="0.2387" stop-color="#d04643"/><stop offset="0.3660" stop-color="#cb484a"/><stop offset="0.4876" stop-color="#c54951"/><stop offset="0.5754" stop-color="#bd4956"/><stop offset="0.6633" stop-color="#b2485b"/><stop offset="0.7511" stop-color="#a44661"/><stop offset="0.8389" stop-color="#914061"/><stop offset="0.8829" stop-color="#863c61"/><stop offset="0.9370" stop-color="#7b3861"/><stop offset="1.0000" stop-color="#6c3360"/></linearGradient>
<linearGradient id="b52" x1="0" y1="0" x2="0" y2="1"><stop offset="0.0000" stop-color="#ca3537"/><stop offset="0.0878" stop-color="#cc3b3c"/><stop offset="0.2387" stop-color="#ce4443"/><stop offset="0.3660" stop-color="#c8464a"/><stop offset="0.4876" stop-color="#c24851"/><stop offset="0.5754" stop-color="#ba4855"/><stop offset="0.6633" stop-color="#ae475a"/><stop offset="0.7511" stop-color="#a14560"/><stop offset="0.8389" stop-color="#8e3e61"/><stop offset="0.8829" stop-color="#843b61"/><stop offset="0.9370" stop-color="#783760"/><stop offset="1.0000" stop-color="#6a3260"/></linearGradient>
<linearGradient id="b53" x1="0" y1="0" x2="0" y2="1"><stop offset="0.0000" stop-color="#c83437"/><stop offset="0.0878" stop-color="#ca3a3c"/><stop offset="0.2387" stop-color="#cc4342"/><stop offset="0.3660" stop-color="#c6454a"/><stop offset="0.4876" stop-color="#bf4750"/><stop offset="0.5754" stop-color="#b74755"/><stop offset="0.6633" stop-color="#ab455a"/><stop offset="0.7511" stop-color="#9e4360"/><stop offset="0.8389" stop-color="#8b3d60"/><stop offset="0.8829" stop-color="#813a60"/><stop offset="0.9370" stop-color="#76365f"/><stop offset="1.0000" stop-color="#68315f"/></linearGradient>
<linearGradient id="b54" x1="0" y1="0" x2="0" y2="1"><stop offset="0.0000" stop-color="#c53237"/><stop offset="0.0878" stop-color="#c8383b"/><stop offset="0.2387" stop-color="#ca4242"/><stop offset="0.3660" stop-color="#c34449"/><stop offset="0.4876" stop-color="#bc454f"/><stop offset="0.5754" stop-color="#b44554"/><stop offset="0.6633" stop-color="#a84459"/><stop offset="0.7511" stop-color="#9a425f"/><stop offset="0.8389" stop-color="#883c60"/><stop offset="0.8829" stop-color="#7e3960"/><stop offset="0.9370" stop-color="#73355f"/><stop offset="1.0000" stop-color="#66305e"/></linearGradient>
<linearGradient id="b55" x1="0" y1="0" x2="0" y2="1"><stop offset="0.0000" stop-color="#c33037"/><stop offset="0.0878" stop-color="#c5373b"/><stop offset="0.2387" stop-color="#c84142"/><stop offset="0.3660" stop-color="#c14249"/><stop offset="0.4876" stop-color="#b9444f"/><stop offset="0.5754" stop-color="#b04453"/><stop offset="0.6633" stop-color="#a54358"/><stop offset="0.7511" stop-color="#97415f"/><stop offset="0.8389" stop-color="#843b5f"/><stop offset="0.8829" stop-color="#7b375f"/><stop offset="0.9370" stop-color="#70345e"/><stop offset="1.0000" stop-color="#632f5d"/></linearGradient>
<linearGradient id="b56" x1="0" y1="0" x2="0" y2="1"><stop offset="0.0000" stop-color="#c02f37"/><stop offset="0.0878" stop-color="#c3363b"/><stop offset="0.2387" stop-color="#c54042"/><stop offset="0.3660" stop-color="#be4148"/><stop offset="0.4876" stop-color="#b6424e"/><stop offset="0.5754" stop-color="#ad4253"/><stop offset="0.6633" stop-color="#a14158"/><stop offset="0.7511" stop-color="#933f5e"/><stop offset="0.8389" stop-color="#81395e"/><stop offset="0.8829" stop-color="#78365f"/><stop offset="0.9370" stop-color="#6e335e"/><stop offset="1.0000" stop-color="#612e5d"/></linearGradient>
<linearGradient id="b57" x1="0" y1="0" x2="0" y2="1"><stop offset="0.0000" stop-color="#bd2d38"/><stop offset="0.0878" stop-color="#c0343c"/><stop offset="0.2387" stop-color="#c33e42"/><stop offset="0.3660" stop-color="#bb4048"/><stop offset="0.4876" stop-color="#b3414e"/><stop offset="0.5754" stop-color="#aa4152"/><stop offset="0.6633" stop-color="#9e4057"/><stop offset="0.7511" stop-color="#903e5e"/><stop offset="0.8389" stop-color="#7e385e"/><stop offset="0.8829" stop-color="#75355e"/><stop offset="0.9370" stop-color="#6b315d"/><stop offset="1.0000" stop-color="#5e2d5c"/></linearGradient>
<linearGradient id="b58" x1="0" y1="0" x2="0" y2="1"><stop offset="0.0000" stop-color="#ba2c38"/><stop offset="0.0878" stop-color="#bd333c"/><stop offset="0.2387" stop-color="#c03d42"/><stop offset="0.3660" stop-color="#b83e48"/><stop offset="0.4876" stop-color="#af3f4d"/><stop offset="0.5754" stop-color="#a63f51"/><stop offset="0.6633" stop-color="#9a3e56"/><stop offset="0.7511" stop-color="#8c3c5d"/><stop offset="0.8389" stop-color="#7a375d"/><stop offset="0.8829" stop-color="#72345d"/><stop offset="0.9370" stop-color="#68305c"/><stop offset="1.0000" stop-color="#5c2c5b"/></linearGradient>
<linearGradient id="b59" x1="0" y1="0" x2="0" y2="1"><stop offset="0.0000" stop-color="#b72b39"/><stop offset="0.0878" stop-color="#ba323c"/><stop offset="0.2387" stop-color="#be3c42"/><stop offset="0.3660" stop-color="#b53d47"/><stop offset="0.4876" stop-color="#ac3d4c"/><stop offset="0.5754" stop-color="#a23e51"/><stop offset="0.6633" stop-color="#973d56"/><stop offset="0.7511" stop-color="#883b5d"/><stop offset="0.8389" stop-color="#77365d"/><stop offset="0.8829" stop-color="#6e335d"/><stop offset="0.9370" stop-color="#652f5c"/><stop offset="1.0000" stop-color="#5a2b5b"/></linearGradient>
<linearGradient id="b60" x1="0" y1="0" x2="0" y2="1"><stop offset="0.0000" stop-color="#b32a3a"/><stop offset="0.0878" stop-color="#b7313d"/><stop offset="0.2387" stop-color="#bb3b42"/><stop offset="0.3660" stop-color="#b23b47"/><stop offset="0.4876" stop-color="#a83b4c"/><stop offset="0.5754" stop-color="#9f3c50"/><stop offset="0.6633" stop-color="#933b55"/><stop offset="0.7511" stop-color="#84395c"/><stop offset="0.8389" stop-color="#74345c"/><stop offset="0.8829" stop-color="#6b315c"/><stop offset="0.9370" stop-color="#622e5b"/><stop offset="1.0000" stop-color="#572a5a"/></linearGradient>
<linearGradient id="b61" x1="0" y1="0" x2="0" y2="1"><stop offset="0.0000" stop-color="#b0293b"/><stop offset="0.0878" stop-color="#b3303e"/><stop offset="0.2387" stop-color="#b83a43"/><stop offset="0.3660" stop-color="#ae3a47"/><stop offset="0.4876" stop-color="#a53a4b"/><stop offset="0.5754" stop-color="#9b3a4f"/><stop offset="0.6633" stop-color="#8f3a54"/><stop offset="0.7511" stop-color="#80385c"/><stop offset="0.8389" stop-color="#70335c"/><stop offset="0.8829" stop-color="#68305b"/><stop offset="0.9370" stop-color="#5f2d5a"/><stop offset="1.0000" stop-color="#542959"/></linearGradient>
<linearGradient id="b62" x1="0" y1="0" x2="0" y2="1"><stop offset="0.0000" stop-color="#ac283d"/><stop offset="0.0878" stop-color="#b02f3f"/><stop offset="0.2387" stop-color="#b53943"/><stop offset="0.3660" stop-color="#ab3947"/><stop offset="0.4876" stop-color="#a1384a"/><stop offset="0.5754" stop-color="#97384e"/><stop offset="0.6633" stop-color="#8b3854"/><stop offset="0.7511" stop-color="#7c365b"/><stop offset="0.8389" stop-color="#6c315b"/><stop offset="0.8829" stop-color="#642f5b"/><stop offset="0.9370" stop-color="#5c2b5a"/><stop offset="1.0000" stop-color="#522858"/></linearGradient>
<linearGradient id="b63" x1="0" y1="0" x2="0" y2="1"><stop offset="0.0000" stop-color="#a8283f"/><stop offset="0.0878" stop-color="#ac2f40"/><stop offset="0.2387" stop-color="#b23844"/><stop offset="0.3660" stop-color="#a73747"/><stop offset="0.4876" stop-color="#9d3649"/><stop offset="0.5754" stop-color="#93374e"/><stop offset="0.6633" stop-color="#873653"/><stop offset="0.7511" stop-color="#78355a"/><stop offset="0.8389" stop-color="#69305a"/><stop offset="0.8829" stop-color="#612d5a"/><stop offset="0.9370" stop-color="#592a59"/><stop offset="1.0000" stop-color="#4f2757"/></linearGradient>
<filter id="grain" x="0" y="0" width="100%" height="100%" color-interpolation-filters="sRGB"><feTurbulence type="fractalNoise" baseFrequency="0.42" numOctaves="2" seed="7" result="n"/><feColorMatrix type="matrix" values="2.2 0 0 0 -0.6  2.2 0 0 0 -0.6  2.2 0 0 0 -0.6  0 0 0 0 1"/></filter>
<filter id="fat" x="-5%" y="-10%" width="110%" height="120%"><feMorphology operator="dilate" radius="7 3"/></filter>
<filter id="fat2" x="-20%" y="-20%" width="140%" height="140%"><feMorphology operator="dilate" radius="2 1"/></filter>
<filter id="thin" x="-5%" y="-10%" width="110%" height="120%"><feMorphology operator="dilate" radius="1 0"/></filter>
<mask id="cut1" maskUnits="userSpaceOnUse" x="380" y="240" width="644" height="290"><rect x="380" y="240" width="644" height="290" fill="#fff"/><path d="M600.5,299.5L606.3,337.2H594.2Z M783.5,296L788,289.8H830V315.4H783.5Z M463,425.4L467.5,419.2H510V444.8H463Z" fill="#000"/></mask>
<clipPath id="cc"><circle cx="0" cy="0" r="18.9"/></clipPath>

</defs>
<rect x="0" y="0" width="17" height="683" fill="url(#b0)"/>
<rect x="16" y="0" width="17" height="683" fill="url(#b1)"/>
<rect x="32" y="0" width="17" height="683" fill="url(#b2)"/>
<rect x="48" y="0" width="17" height="683" fill="url(#b3)"/>
<rect x="64" y="0" width="17" height="683" fill="url(#b4)"/>
<rect x="80" y="0" width="17" height="683" fill="url(#b5)"/>
<rect x="96" y="0" width="17" height="683" fill="url(#b6)"/>
<rect x="112" y="0" width="17" height="683" fill="url(#b7)"/>
<rect x="128" y="0" width="17" height="683" fill="url(#b8)"/>
<rect x="144" y="0" width="17" height="683" fill="url(#b9)"/>
<rect x="160" y="0" width="17" height="683" fill="url(#b10)"/>
<rect x="176" y="0" width="17" height="683" fill="url(#b11)"/>
<rect x="192" y="0" width="17" height="683" fill="url(#b12)"/>
<rect x="208" y="0" width="17" height="683" fill="url(#b13)"/>
<rect x="224" y="0" width="17" height="683" fill="url(#b14)"/>
<rect x="240" y="0" width="17" height="683" fill="url(#b15)"/>
<rect x="256" y="0" width="17" height="683" fill="url(#b16)"/>
<rect x="272" y="0" width="17" height="683" fill="url(#b17)"/>
<rect x="288" y="0" width="17" height="683" fill="url(#b18)"/>
<rect x="304" y="0" width="17" height="683" fill="url(#b19)"/>
<rect x="320" y="0" width="17" height="683" fill="url(#b20)"/>
<rect x="336" y="0" width="17" height="683" fill="url(#b21)"/>
<rect x="352" y="0" width="17" height="683" fill="url(#b22)"/>
<rect x="368" y="0" width="17" height="683" fill="url(#b23)"/>
<rect x="384" y="0" width="17" height="683" fill="url(#b24)"/>
<rect x="400" y="0" width="17" height="683" fill="url(#b25)"/>
<rect x="416" y="0" width="17" height="683" fill="url(#b26)"/>
<rect x="432" y="0" width="17" height="683" fill="url(#b27)"/>
<rect x="448" y="0" width="17" height="683" fill="url(#b28)"/>
<rect x="464" y="0" width="17" height="683" fill="url(#b29)"/>
<rect x="480" y="0" width="17" height="683" fill="url(#b30)"/>
<rect x="496" y="0" width="17" height="683" fill="url(#b31)"/>
<rect x="512" y="0" width="17" height="683" fill="url(#b32)"/>
<rect x="528" y="0" width="17" height="683" fill="url(#b33)"/>
<rect x="544" y="0" width="17" height="683" fill="url(#b34)"/>
<rect x="560" y="0" width="17" height="683" fill="url(#b35)"/>
<rect x="576" y="0" width="17" height="683" fill="url(#b36)"/>
<rect x="592" y="0" width="17" height="683" fill="url(#b37)"/>
<rect x="608" y="0" width="17" height="683" fill="url(#b38)"/>
<rect x="624" y="0" width="17" height="683" fill="url(#b39)"/>
<rect x="640" y="0" width="17" height="683" fill="url(#b40)"/>
<rect x="656" y="0" width="17" height="683" fill="url(#b41)"/>
<rect x="672" y="0" width="17" height="683" fill="url(#b42)"/>
<rect x="688" y="0" width="17" height="683" fill="url(#b43)"/>
<rect x="704" y="0" width="17" height="683" fill="url(#b44)"/>
<rect x="720" y="0" width="17" height="683" fill="url(#b45)"/>
<rect x="736" y="0" width="17" height="683" fill="url(#b46)"/>
<rect x="752" y="0" width="17" height="683" fill="url(#b47)"/>
<rect x="768" y="0" width="17" height="683" fill="url(#b48)"/>
<rect x="784" y="0" width="17" height="683" fill="url(#b49)"/>
<rect x="800" y="0" width="17" height="683" fill="url(#b50)"/>
<rect x="816" y="0" width="17" height="683" fill="url(#b51)"/>
<rect x="832" y="0" width="17" height="683" fill="url(#b52)"/>
<rect x="848" y="0" width="17" height="683" fill="url(#b53)"/>
<rect x="864" y="0" width="17" height="683" fill="url(#b54)"/>
<rect x="880" y="0" width="17" height="683" fill="url(#b55)"/>
<rect x="896" y="0" width="17" height="683" fill="url(#b56)"/>
<rect x="912" y="0" width="17" height="683" fill="url(#b57)"/>
<rect x="928" y="0" width="17" height="683" fill="url(#b58)"/>
<rect x="944" y="0" width="17" height="683" fill="url(#b59)"/>
<rect x="960" y="0" width="17" height="683" fill="url(#b60)"/>
<rect x="976" y="0" width="17" height="683" fill="url(#b61)"/>
<rect x="992" y="0" width="17" height="683" fill="url(#b62)"/>
<rect x="1008" y="0" width="17" height="683" fill="url(#b63)"/>
<rect width="1024" height="683" filter="url(#grain)" style="mix-blend-mode:soft-light" opacity="0.22"/>
<g id="content">
<rect x="124.6" y="15.40" width="75.0" height="20.60" rx="1" fill="#f7a29a"/>
<rect x="124.6" y="35.70" width="132.6" height="21.60" rx="1.2" fill="#fff"/>
<rect x="124.6" y="73.10" width="443.7" height="20.60" rx="1" fill="#f7a39d"/>
<rect x="124.6" y="93.40" width="432.1" height="21.60" rx="1.2" fill="#fff"/>
<rect x="124.6" y="203.00" width="144.1" height="20.60" rx="1" fill="#f5a5a5"/>
<rect x="124.6" y="223.30" width="178.7" height="21.60" rx="1.2" fill="#fff"/>
<rect x="124.6" y="261.00" width="86.5" height="20.60" rx="1" fill="#f5a6a8"/>
<rect x="124.6" y="281.30" width="109.6" height="21.60" rx="1.2" fill="#fff"/>
<rect x="124.6" y="318.90" width="28.9" height="20.60" rx="1" fill="#f4a7ab"/>
<rect x="124.6" y="339.20" width="109.6" height="21.60" rx="1.2" fill="#fff"/>
<rect x="124.6" y="376.70" width="63.5" height="20.60" rx="1" fill="#f4a8af"/>
<rect x="124.6" y="397.00" width="98.1" height="21.60" rx="1.2" fill="#fff"/>
<rect x="124.6" y="434.70" width="132.6" height="20.60" rx="1" fill="#f3a9b2"/>
<rect x="124.6" y="455.00" width="75.0" height="21.60" rx="1.2" fill="#fff"/>
<rect x="124.6" y="492.70" width="155.7" height="20.60" rx="1" fill="#f3aab5"/>
<rect x="124.6" y="513.00" width="155.7" height="21.60" rx="1.2" fill="#fff"/>
<rect x="124.6" y="550.50" width="236.3" height="20.60" rx="1" fill="#f2abb9"/>
<rect x="124.6" y="570.80" width="247.8" height="21.60" rx="1.2" fill="#fff"/>
<rect x="124.6" y="608.40" width="121.1" height="20.60" rx="1" fill="#f2acbc"/>
<rect x="124.6" y="628.70" width="144.1" height="21.60" rx="1.2" fill="#fff"/>
<text y="32.40" font-size="23.26" font-weight="bold" fill="#f99c92" stroke="#f99c92" stroke-width="0.7"><tspan x="206.90" textLength="25.38" lengthAdjust="spacingAndGlyphs">0.6</tspan><tspan x="232.78" font-size="20.23" textLength="12.20" lengthAdjust="spacingAndGlyphs">%</tspan></text>
<text y="55.00" font-size="23.26" font-weight="bold" fill="#fff" stroke="#fff" stroke-width="0.7"><tspan x="264.89" textLength="18.40" lengthAdjust="spacingAndGlyphs">1.1</tspan><tspan x="284.08" font-size="20.23" textLength="12.20" lengthAdjust="spacingAndGlyphs">%</tspan></text>
<text y="90.90" font-size="23.26" font-weight="bold" fill="#f89d96" stroke="#f89d96" stroke-width="0.7"><tspan x="577.45" textLength="24.96" lengthAdjust="spacingAndGlyphs">3.8</tspan><tspan x="603.02" font-size="20.23" textLength="12.20" lengthAdjust="spacingAndGlyphs">%</tspan></text>
<text y="113.50" font-size="23.26" font-weight="bold" fill="#fff" stroke="#fff" stroke-width="0.7"><tspan x="565.94" textLength="23.95" lengthAdjust="spacingAndGlyphs">3.7</tspan><tspan x="590.30" font-size="20.23" textLength="12.20" lengthAdjust="spacingAndGlyphs">%</tspan></text>
<text y="220.00" font-size="23.26" font-weight="bold" fill="#f79f9e" stroke="#f79f9e" stroke-width="0.7"><tspan x="276.23" textLength="22.25" lengthAdjust="spacingAndGlyphs">1.2</tspan><tspan x="299.00" font-size="20.23" textLength="12.20" lengthAdjust="spacingAndGlyphs">%</tspan></text>
<text y="242.60" font-size="23.26" font-weight="bold" fill="#fff" stroke="#fff" stroke-width="0.7"><tspan x="310.80" textLength="22.04" lengthAdjust="spacingAndGlyphs">1.5</tspan><tspan x="333.56" font-size="20.23" textLength="12.20" lengthAdjust="spacingAndGlyphs">%</tspan></text>
<text y="278.00" font-size="23.26" font-weight="bold" fill="#f7a0a2" stroke="#f7a0a2" stroke-width="0.7"><tspan x="218.45" textLength="24.26" lengthAdjust="spacingAndGlyphs">0.7</tspan><tspan x="243.10" font-size="20.23" textLength="12.20" lengthAdjust="spacingAndGlyphs">%</tspan></text>
<text y="300.60" font-size="23.26" font-weight="bold" fill="#fff" stroke="#fff" stroke-width="0.7"><tspan x="241.46" textLength="25.40" lengthAdjust="spacingAndGlyphs">0.9</tspan><tspan x="267.34" font-size="20.23" textLength="12.20" lengthAdjust="spacingAndGlyphs">%</tspan></text>
<text y="335.90" font-size="23.26" font-weight="bold" fill="#f6a1a5" stroke="#f6a1a5" stroke-width="0.7"><tspan x="160.82" textLength="25.46" lengthAdjust="spacingAndGlyphs">0.2</tspan><tspan x="186.70" font-size="20.23" textLength="12.20" lengthAdjust="spacingAndGlyphs">%</tspan></text>
<text y="358.50" font-size="23.26" font-weight="bold" fill="#fff" stroke="#fff" stroke-width="0.7"><tspan x="241.46" textLength="25.40" lengthAdjust="spacingAndGlyphs">0.9</tspan><tspan x="267.34" font-size="20.23" textLength="12.20" lengthAdjust="spacingAndGlyphs">%</tspan></text>
<text y="393.70" font-size="23.26" font-weight="bold" fill="#f5a2a9" stroke="#f5a2a9" stroke-width="0.7"><tspan x="195.38" textLength="25.22" lengthAdjust="spacingAndGlyphs">0.5</tspan><tspan x="221.26" font-size="20.23" textLength="12.20" lengthAdjust="spacingAndGlyphs">%</tspan></text>
<text y="416.30" font-size="23.26" font-weight="bold" fill="#fff" stroke="#fff" stroke-width="0.7"><tspan x="229.94" textLength="25.28" lengthAdjust="spacingAndGlyphs">0.8</tspan><tspan x="255.82" font-size="20.23" textLength="12.20" lengthAdjust="spacingAndGlyphs">%</tspan></text>
<text y="451.70" font-size="23.26" font-weight="bold" fill="#f5a3ad" stroke="#f5a3ad" stroke-width="0.7"><tspan x="264.89" textLength="18.40" lengthAdjust="spacingAndGlyphs">1.1</tspan><tspan x="284.08" font-size="20.23" textLength="12.20" lengthAdjust="spacingAndGlyphs">%</tspan></text>
<text y="474.30" font-size="23.26" font-weight="bold" fill="#fff" stroke="#fff" stroke-width="0.7"><tspan x="206.90" textLength="25.38" lengthAdjust="spacingAndGlyphs">0.6</tspan><tspan x="232.78" font-size="20.23" textLength="12.20" lengthAdjust="spacingAndGlyphs">%</tspan></text>
<text y="509.70" font-size="23.26" font-weight="bold" fill="#f4a4b1" stroke="#f4a4b1" stroke-width="0.7"><tspan x="287.75" textLength="22.18" lengthAdjust="spacingAndGlyphs">1.3</tspan><tspan x="310.52" font-size="20.23" textLength="12.20" lengthAdjust="spacingAndGlyphs">%</tspan></text>
<text y="532.30" font-size="23.26" font-weight="bold" fill="#fff" stroke="#fff" stroke-width="0.7"><tspan x="287.75" textLength="22.18" lengthAdjust="spacingAndGlyphs">1.3</tspan><tspan x="310.52" font-size="20.23" textLength="12.20" lengthAdjust="spacingAndGlyphs">%</tspan></text>
<text y="567.50" font-size="23.26" font-weight="bold" fill="#f4a5b4" stroke="#f4a5b4" stroke-width="0.7"><tspan x="368.27" textLength="25.38" lengthAdjust="spacingAndGlyphs">2.0</tspan><tspan x="394.06" font-size="20.23" textLength="12.20" lengthAdjust="spacingAndGlyphs">%</tspan></text>
<text y="590.10" font-size="23.26" font-weight="bold" fill="#fff" stroke="#fff" stroke-width="0.7"><tspan x="379.88" textLength="21.57" lengthAdjust="spacingAndGlyphs">2.1</tspan><tspan x="402.18" font-size="20.23" textLength="12.20" lengthAdjust="spacingAndGlyphs">%</tspan></text>
<text y="625.40" font-size="23.26" font-weight="bold" fill="#f3a6b8" stroke="#f3a6b8" stroke-width="0.7"><tspan x="253.19" textLength="22.27" lengthAdjust="spacingAndGlyphs">1.0</tspan><tspan x="275.96" font-size="20.23" textLength="12.20" lengthAdjust="spacingAndGlyphs">%</tspan></text>
<text y="648.00" font-size="23.26" font-weight="bold" fill="#fff" stroke="#fff" stroke-width="0.7"><tspan x="276.23" textLength="22.25" lengthAdjust="spacingAndGlyphs">1.2</tspan><tspan x="299.00" font-size="20.23" textLength="12.20" lengthAdjust="spacingAndGlyphs">%</tspan></text>
<text y="43.50" font-size="20.78" font-weight="bold" fill="#fdece8" stroke="#fdece8" stroke-width="0.5"><tspan x="69.83" textLength="29.36" lengthAdjust="spacingAndGlyphs">Iran</tspan></text>
<text y="101.20" font-size="20.78" font-weight="bold" fill="#fdece8" stroke="#fdece8" stroke-width="0.5"><tspan x="23.29" textLength="75.85" lengthAdjust="spacingAndGlyphs">BRICS Avg.</tspan></text>
<text y="231.10" font-size="20.78" font-weight="bold" fill="#fdece8" stroke="#fdece8" stroke-width="0.5"><tspan x="45.30" textLength="52.81" lengthAdjust="spacingAndGlyphs">Canada</tspan></text>
<text y="289.10" font-size="20.78" font-weight="bold" fill="#fdece8" stroke="#fdece8" stroke-width="0.5"><tspan x="49.70" textLength="49.01" lengthAdjust="spacingAndGlyphs">France</tspan></text>
<text y="347.00" font-size="20.78" font-weight="bold" fill="#fdece8" stroke="#fdece8" stroke-width="0.5"><tspan x="35.20" textLength="63.07" lengthAdjust="spacingAndGlyphs">Germany</tspan></text>
<text y="404.80" font-size="20.78" font-weight="bold" fill="#fdece8" stroke="#fdece8" stroke-width="0.5"><tspan x="66.95" textLength="31.33" lengthAdjust="spacingAndGlyphs">Italy</tspan></text>
<text y="462.80" font-size="20.78" font-weight="bold" fill="#fdece8" stroke="#fdece8" stroke-width="0.5"><tspan x="55.37" textLength="43.77" lengthAdjust="spacingAndGlyphs">Japan</tspan></text>
<text y="520.80" font-size="20.78" font-weight="bold" fill="#fdece8" stroke="#fdece8" stroke-width="0.5"><tspan x="79.73" textLength="18.59" lengthAdjust="spacingAndGlyphs">UK</tspan></text>
<text y="578.60" font-size="20.78" font-weight="bold" fill="#fdece8" stroke="#fdece8" stroke-width="0.5"><tspan x="71.86" textLength="27.31" lengthAdjust="spacingAndGlyphs">U.S.</tspan></text>
<text y="636.50" font-size="20.78" font-weight="bold" fill="#fdece8" stroke="#fdece8" stroke-width="0.5"><tspan x="47.14" textLength="52.01" lengthAdjust="spacingAndGlyphs">G7 Avg.</tspan></text>
<g transform="translate(124.6,36.0)"><circle r="21.7" fill="#fff"/><g clip-path="url(#cc)"><rect x="-20" y="-20" width="40" height="12" fill="#5fae3f"/><rect x="-20" y="-8" width="40" height="17" fill="#fff"/><rect x="-20" y="8.8" width="40" height="12" fill="#ee2a4a"/><g fill="none" stroke="#ee2a4a" stroke-width="1.1" stroke-linecap="round"><path d="M0,-5.5V5"/><path d="M-2.2,-3.5C-4.2,-1 -3.6,2.6 -1.2,4.4"/><path d="M2.2,-3.5C4.2,-1 3.6,2.6 1.2,4.4"/><path d="M-4.6,-3.6C-6.8,-0.5 -5.6,3.6 -2.6,5"/><path d="M4.6,-3.6C6.8,-0.5 5.6,3.6 2.6,5"/></g></g></g>
<g transform="translate(124.6,93.7)" fill="none" stroke="#fff" stroke-width="1.9"><circle r="20.3" fill="#e14f43"/><ellipse rx="11.2" ry="20.3"/><path d="M0,-20.3V20.3M-20.3,0H20.3"/><path d="M-16.2,-12.6Q0,-6.2 16.2,-12.6M-16.2,12.6Q0,6.2 16.2,12.6"/></g>
<g transform="translate(124.6,223.6)"><circle r="21.7" fill="#fff"/><g clip-path="url(#cc)"><rect x="-20" y="-20" width="40" height="40" fill="#fff"/><rect x="-20" y="-20" width="6.9" height="40" fill="#ee2a4a"/><rect x="13.6" y="-20" width="7" height="40" fill="#ee2a4a"/><path d="M0,-11.2 L1.9,-7.6 L3.9,-8.6 L3.1,-3.4 L5.7,-6 L6.3,-4.4 L9.4,-4.9 L8.2,-1.4 L9.6,-0.7 L4.8,3.6 L5.5,5.4 L0.55,4.8 L0.6,11.6 L-0.6,11.6 L-0.55,4.8 L-5.5,5.4 L-4.8,3.6 L-9.6,-0.7 L-8.2,-1.4 L-9.4,-4.9 L-6.3,-4.4 L-5.7,-6 L-3.1,-3.4 L-3.9,-8.6 L-1.9,-7.6Z" fill="#ee2a4a"/></g></g>
<g transform="translate(124.6,281.6)"><circle r="21.7" fill="#fff"/><g clip-path="url(#cc)"><rect x="-20" y="-20" width="9.1" height="40" fill="#2059ae"/><rect x="-10.9" y="-20" width="21.3" height="40" fill="#fff"/><rect x="10.4" y="-20" width="10" height="40" fill="#ee2a4a"/></g></g>
<g transform="translate(124.6,339.5)"><circle r="21.7" fill="#fff"/><g clip-path="url(#cc)"><rect x="-20" y="-20" width="40" height="13" fill="#333"/><rect x="-20" y="-7" width="40" height="12.7" fill="#ee2a4a"/><rect x="-20" y="5.7" width="40" height="15" fill="#f0c232"/></g></g>
<g transform="translate(124.6,397.3)"><circle r="21.7" fill="#fff"/><g clip-path="url(#cc)"><rect x="-20" y="-20" width="10.2" height="40" fill="#5fae3f"/><rect x="-9.8" y="-20" width="21.2" height="40" fill="#fff"/><rect x="11.4" y="-20" width="9" height="40" fill="#ee2a4a"/></g></g>
<g transform="translate(124.6,455.3)"><circle r="21.7" fill="#fff"/><g clip-path="url(#cc)"><rect x="-20" y="-20" width="40" height="40" fill="#fff"/><circle cx="0.4" cy="0.4" r="8.7" fill="#ee2a4a"/></g></g>
<g transform="translate(124.6,513.3)"><circle r="21.7" fill="#fff"/><g clip-path="url(#cc)"><rect x="-20" y="-20" width="40" height="40" fill="#2059ae"/><path d="M-40,-20L40,20M40,-20L-40,20" stroke="#fff" stroke-width="6.4"/><path d="M-40,-20L40,20M40,-20L-40,20" stroke="#ee2a4a" stroke-width="2"/><path d="M0,-20V20M-20,0H20" stroke="#fff" stroke-width="10.2"/><path d="M0,-20V20M-20,0H20" stroke="#ee2a4a" stroke-width="5.8"/></g></g>
<g transform="translate(124.6,571.1)"><circle r="21.7" fill="#fff"/><g clip-path="url(#cc)"><rect x="-20" y="-20" width="40" height="40" fill="#fff"/><rect x="-20" y="-20.1" width="40" height="2.9" fill="#e0324e"/><rect x="-20" y="-14.0" width="40" height="2.9" fill="#e0324e"/><rect x="-20" y="-7.5" width="40" height="2.9" fill="#e0324e"/><rect x="-20" y="-0.8" width="40" height="2.9" fill="#e0324e"/><rect x="-20" y="4.8" width="40" height="2.9" fill="#e0324e"/><rect x="-20" y="11.1" width="40" height="2.9" fill="#e0324e"/><rect x="-20" y="16.9" width="40" height="2.9" fill="#e0324e"/><rect x="-20" y="-20" width="18.5" height="21.6" fill="#2a5ca2"/><circle cx="-16.0" cy="-15.5" r="0.9" fill="#7fc0f0"/><circle cx="-11.7" cy="-15.5" r="0.9" fill="#7fc0f0"/><circle cx="-7.4" cy="-15.5" r="0.9" fill="#7fc0f0"/><circle cx="-3.1" cy="-15.5" r="0.9" fill="#7fc0f0"/><circle cx="-13.9" cy="-11.6" r="0.9" fill="#7fc0f0"/><circle cx="-9.6" cy="-11.6" r="0.9" fill="#7fc0f0"/><circle cx="-5.3" cy="-11.6" r="0.9" fill="#7fc0f0"/><circle cx="-1.0" cy="-11.6" r="0.9" fill="#7fc0f0"/><circle cx="-16.0" cy="-7.7" r="0.9" fill="#7fc0f0"/><circle cx="-11.7" cy="-7.7" r="0.9" fill="#7fc0f0"/><circle cx="-7.4" cy="-7.7" r="0.9" fill="#7fc0f0"/><circle cx="-3.1" cy="-7.7" r="0.9" fill="#7fc0f0"/><circle cx="-13.9" cy="-3.8" r="0.9" fill="#7fc0f0"/><circle cx="-9.6" cy="-3.8" r="0.9" fill="#7fc0f0"/><circle cx="-5.3" cy="-3.8" r="0.9" fill="#7fc0f0"/><circle cx="-1.0" cy="-3.8" r="0.9" fill="#7fc0f0"/><circle cx="-16.0" cy="0.1" r="0.9" fill="#7fc0f0"/><circle cx="-11.7" cy="0.1" r="0.9" fill="#7fc0f0"/><circle cx="-7.4" cy="0.1" r="0.9" fill="#7fc0f0"/><circle cx="-3.1" cy="0.1" r="0.9" fill="#7fc0f0"/></g></g>
<g transform="translate(124.6,629.0)" fill="none" stroke="#fff" stroke-width="1.9"><circle r="20.3" fill="#ac4b6b"/><ellipse rx="11.2" ry="20.3"/><path d="M0,-20.3V20.3M-20.3,0H20.3"/><path d="M-16.2,-12.6Q0,-6.2 16.2,-12.6M-16.2,12.6Q0,6.2 16.2,12.6"/></g>
<path d="M11,137.4H1008" stroke="#a80f1c" stroke-opacity="0.6" stroke-width="1.6" stroke-dasharray="6.4 4"/>
<g filter="url(#fat2)"><text y="190.60" font-size="50.29" font-weight="bold" fill="#fff"><tspan x="126.77" textLength="25.13" lengthAdjust="spacingAndGlyphs">G</tspan><tspan x="151.11" textLength="23.23" lengthAdjust="spacingAndGlyphs">7</tspan></text></g>
<g mask="url(#cut1)">
<g filter="url(#fat)"><text y="372.80" font-size="149.71" font-weight="bold" fill="#fff"><tspan x="408.88" textLength="72.58" lengthAdjust="spacingAndGlyphs">R</tspan><tspan x="493.46" textLength="59.21" lengthAdjust="spacingAndGlyphs">E</tspan><tspan x="562.49" textLength="75.67" lengthAdjust="spacingAndGlyphs">A</tspan><tspan x="649.74" textLength="55.35" lengthAdjust="spacingAndGlyphs">L</tspan> <tspan x="755.75" textLength="71.12" lengthAdjust="spacingAndGlyphs">G</tspan><tspan x="835.53" textLength="75.25" lengthAdjust="spacingAndGlyphs">D</tspan><tspan x="920.50" textLength="70.83" lengthAdjust="spacingAndGlyphs">P</tspan></text></g>
<g filter="url(#fat)"><text y="501.50" font-size="149.13" font-weight="bold" fill="#fff"><tspan x="435.22" textLength="71.70" lengthAdjust="spacingAndGlyphs">G</tspan><tspan x="515.56" textLength="71.67" lengthAdjust="spacingAndGlyphs">R</tspan><tspan x="597.07" textLength="74.44" lengthAdjust="spacingAndGlyphs">O</tspan><tspan x="684.59" textLength="102.21" lengthAdjust="spacingAndGlyphs">W</tspan><tspan x="803.68" textLength="66.28" lengthAdjust="spacingAndGlyphs">T</tspan><tspan x="878.60" textLength="72.35" lengthAdjust="spacingAndGlyphs">H</tspan></text></g>
</g>
<path d="M401.8,266.8H410.5V292Z M486.5,266.8H493.5V288.5Z M828.3,266.8H836.5V287.5Z M913.6,266.8H921.5V287.5Z M508.3,396.6H516V414.4Z" fill="#fff"/>
<path d="M919.6,373.2L935.6,356.9L951.6,373.2" fill="none" stroke="#aa3f50" stroke-width="3.4" stroke-linejoin="miter"/>
<path d="M921.4,504.5V383.6H913.9L935.6,360.6L958.2,383.6H951.2V504.5Z" fill="#fff"/>
<g filter="url(#thin)"><text y="251.00" font-size="63.52" fill="#f6a49c"><tspan x="404.26" textLength="23.94" lengthAdjust="spacingAndGlyphs">B</tspan><tspan x="436.56" textLength="23.23" lengthAdjust="spacingAndGlyphs">R</tspan><tspan x="468.23" textLength="8.04" lengthAdjust="spacingAndGlyphs">I</tspan><tspan x="485.24" textLength="22.24" lengthAdjust="spacingAndGlyphs">C</tspan><tspan x="517.39" textLength="22.13" lengthAdjust="spacingAndGlyphs">S</tspan> <tspan font-size="47.92"><tspan x="566.71" textLength="13.79" lengthAdjust="spacingAndGlyphs">v</tspan><tspan x="589.40" textLength="14.45" lengthAdjust="spacingAndGlyphs">s</tspan></tspan> <tspan x="629.77" textLength="23.71" lengthAdjust="spacingAndGlyphs">G</tspan><tspan x="660.93" textLength="21.41" lengthAdjust="spacingAndGlyphs">7</tspan></text></g>
<text y="63.40" font-size="20.78" font-style="italic" fill="#f7b9b2" stroke="#f7b9b2" stroke-width="0.6"><tspan x="677.70" textLength="23.10" lengthAdjust="spacingAndGlyphs">The</tspan> <tspan x="706.04" textLength="25.71" lengthAdjust="spacingAndGlyphs">real</tspan> <tspan x="736.56" textLength="28.12" lengthAdjust="spacingAndGlyphs">GDP</tspan> <tspan x="768.37" textLength="10.99" lengthAdjust="spacingAndGlyphs">of</tspan> <tspan x="785.91" textLength="38.42" lengthAdjust="spacingAndGlyphs">BRICS</tspan> <tspan x="830.28" textLength="74.33" lengthAdjust="spacingAndGlyphs">economies</tspan> <tspan x="909.56" textLength="10.64" lengthAdjust="spacingAndGlyphs">is</tspan></text>
<text y="89.20" font-size="20.78" font-style="italic" fill="#f7b9b2" stroke="#f7b9b2" stroke-width="0.6"><tspan x="677.18" textLength="71.71" lengthAdjust="spacingAndGlyphs">forecasted</tspan> <tspan x="753.97" textLength="13.33" lengthAdjust="spacingAndGlyphs">to</tspan> <tspan x="772.97" textLength="31.45" lengthAdjust="spacingAndGlyphs">grow</tspan> <tspan x="810.75" textLength="34.72" lengthAdjust="spacingAndGlyphs">more</tspan> <tspan x="851.60" textLength="29.90" lengthAdjust="spacingAndGlyphs">than</tspan> <tspan x="886.34" textLength="38.08" lengthAdjust="spacingAndGlyphs">three</tspan> <tspan x="928.62" textLength="35.79" lengthAdjust="spacingAndGlyphs">times</tspan></text>
<text y="114.70" font-size="20.78" font-style="italic" fill="#f7b9b2" stroke="#f7b9b2" stroke-width="0.6"><tspan x="677.20" textLength="37.20" lengthAdjust="spacingAndGlyphs">faster</tspan> <tspan x="721.19" textLength="30.31" lengthAdjust="spacingAndGlyphs">than</tspan> <tspan x="758.93" textLength="12.68" lengthAdjust="spacingAndGlyphs">G7</tspan> <tspan x="777.96" textLength="46.84" lengthAdjust="spacingAndGlyphs">nations</tspan> <tspan x="832.14" textLength="12.70" lengthAdjust="spacingAndGlyphs">in</tspan> <tspan x="849.68" textLength="30.39" lengthAdjust="spacingAndGlyphs">2025</tspan> <tspan x="886.77" textLength="24.14" lengthAdjust="spacingAndGlyphs">and</tspan> <tspan x="917.68" textLength="33.98" lengthAdjust="spacingAndGlyphs">2026.</tspan></text>
<text y="672.40" font-size="22.38" font-style="italic" fill="#f2a2b6" stroke="#f2a2b6" stroke-width="0.6"><tspan x="446.37" textLength="52.54" lengthAdjust="spacingAndGlyphs">Source:</tspan> <tspan x="501.92" textLength="20.71" lengthAdjust="spacingAndGlyphs">IMF</tspan> <tspan x="529.52" textLength="35.72" lengthAdjust="spacingAndGlyphs">World</tspan> <tspan x="572.03" textLength="66.64" lengthAdjust="spacingAndGlyphs">Economic</tspan> <tspan x="643.20" textLength="50.88" lengthAdjust="spacingAndGlyphs">Outlook</tspan> <tspan x="699.71" textLength="22.68" lengthAdjust="spacingAndGlyphs">Oct</tspan> <tspan x="727.98" textLength="31.78" lengthAdjust="spacingAndGlyphs">2025</tspan></text>
<g fill="#f5a7a8">
<path d="M826.2,661.4 C826.2,655 829,650.5 832.5,647.5 L838.5,639.5 C841,635.6 848,634.4 852.7,638.6 C857.4,634.4 864.4,635.6 867,639.5 L873,647.5 C876.8,650.5 879.6,655 879.6,661.4 A15.3,15.3 0 0 1 852.8,671.2 A15.3,15.3 0 0 1 826.2,661.4Z M841.4,648.3 a13.1,13.1 0 1 0 0.01,0Z M864.3,648.3 a13.1,13.1 0 1 0 0.01,0Z" fill-rule="evenodd"/>
<path d="M839.3,667 C838.6,659.5 844,654.8 852,654.6 C855,654.6 857.5,655 859.6,655.9 L861.8,653.6 L862.6,657.6 C866,659.6 867.6,662.3 868.6,664.3 L870.6,665.2 L870.4,669.2 L868.3,670 C867,672.4 865,674.2 862.6,675.2 L857,675.4 C852,670.5 848,672 846.5,675.4 L842.3,673.6 C840.6,671.8 839.6,669.6 839.3,667Z M834,663.4 L839,666.4 L838.4,668.2 L833.4,665Z"/>
</g>
<text y="654.60" font-size="14.39" font-weight="bold" fill="#f5a7a8" stroke="#f5a7a8" stroke-width="0.35"><tspan x="883.89" textLength="10.85" lengthAdjust="spacingAndGlyphs">V</tspan><tspan x="896.47" textLength="4.52" lengthAdjust="spacingAndGlyphs">I</tspan><tspan x="902.36" textLength="10.85" lengthAdjust="spacingAndGlyphs">S</tspan><tspan x="914.53" textLength="11.74" lengthAdjust="spacingAndGlyphs">U</tspan><tspan x="927.81" textLength="11.74" lengthAdjust="spacingAndGlyphs">A</tspan><tspan x="940.97" textLength="9.93" lengthAdjust="spacingAndGlyphs">L</tspan></text>
<text y="669.10" font-size="14.39" font-weight="bold" fill="#f5a7a8" stroke="#f5a7a8" stroke-width="0.35"><tspan x="883.33" textLength="11.74" lengthAdjust="spacingAndGlyphs">C</tspan><tspan x="897.11" textLength="11.74" lengthAdjust="spacingAndGlyphs">A</tspan><tspan x="910.21" textLength="10.85" lengthAdjust="spacingAndGlyphs">P</tspan><tspan x="922.30" textLength="4.52" lengthAdjust="spacingAndGlyphs">I</tspan><tspan x="928.43" textLength="9.93" lengthAdjust="spacingAndGlyphs">T</tspan><tspan x="940.66" textLength="11.74" lengthAdjust="spacingAndGlyphs">A</tspan><tspan x="953.77" textLength="9.93" lengthAdjust="spacingAndGlyphs">L</tspan><tspan x="964.99" textLength="4.52" lengthAdjust="spacingAndGlyphs">I</tspan><tspan x="970.83" textLength="10.85" lengthAdjust="spacingAndGlyphs">S</tspan><tspan x="983.74" textLength="9.93" lengthAdjust="spacingAndGlyphs">T</tspan></text>
</g>
</svg></body></html>
